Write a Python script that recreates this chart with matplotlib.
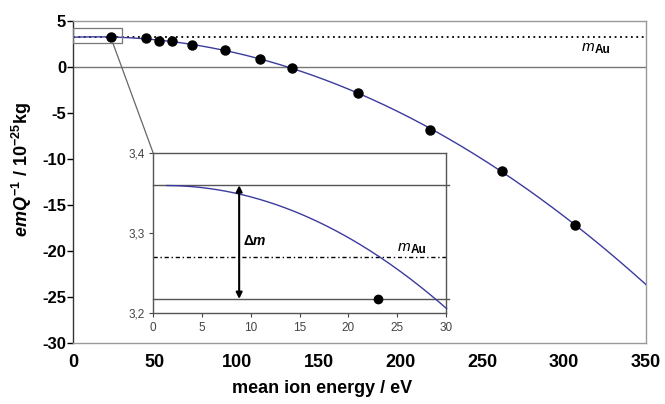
import numpy as np
import matplotlib
matplotlib.use("Agg")
import matplotlib.pyplot as plt
from matplotlib.patches import Rectangle, ConnectionPatch

plt.rcParams['font.family'] = ['Liberation Sans', 'DejaVu Sans']
plt.rcParams['mathtext.fontset'] = 'custom'
plt.rcParams['mathtext.rm'] = 'Liberation Sans:bold'
plt.rcParams['mathtext.it'] = 'Liberation Sans:italic:bold'
plt.rcParams['mathtext.bf'] = 'Liberation Sans:bold'
plt.rcParams['axes.unicode_minus'] = False

# ---- data ----
energy = [23.0, 44.6, 52.7, 60.3, 72.7, 93.0, 114.2, 133.7, 174.3, 218.1, 262.1, 306.8]
emq = [3.22, 3.15, 2.86, 2.80, 2.36, 1.88, 0.84, -0.15, -2.79, -6.82, -11.3, -17.2]

# inset curve
inset_curve_x = [1.37, 4.8, 8.9, 13.3, 18.4, 23.2, 27.0, 30.06]
inset_curve_y = [3.360, 3.357, 3.349, 3.333, 3.304, 3.270, 3.240, 3.204]

m_au = 3.27
m_upper = 3.36
m_lower = 3.218
inset_point_x = [23.0]
inset_point_y = [3.218]

x_ticks = [0, 50, 100, 150, 200, 250, 300, 350]
y_ticks = [5, 0, -5, -10, -15, -20, -25, -30]
inset_x_ticks = [0, 5, 10, 15, 20, 25, 30]
inset_y_ticks = [3.2, 3.3, 3.4]
inset_y_labels = ['3,2', '3,3', '3,4']

W, H = 665, 404
fig = plt.figure(figsize=(W / 100, H / 100), dpi=100)
ax = fig.add_axes([73 / W, (H - 343) / H, 573 / W, 322 / H])
ax.set_xlim(0, 350)
ax.set_ylim(-30, 5)

# fitted curve (quadratic fit of the data points)
coef = np.polyfit(energy, emq, 2)
xf = np.linspace(0, 350, 400)
ax.plot(xf, np.polyval(coef, xf), color='#3b3b9e', lw=1.0, zorder=3)
ax.plot(energy, emq, 'o', color='black', ms=6.5, zorder=4)

ax.axhline(0, color='#777777', lw=1.0, zorder=1)
ax.axhline(m_au, color='black', lw=1.3, ls=(0, (1, 2)), zorder=2)

for s in ['top', 'right', 'bottom']:
    ax.spines[s].set_color('#999999')
    ax.spines[s].set_linewidth(1.0)
ax.spines['left'].set_color('#333333')
ax.spines['left'].set_linewidth(1.0)

ax.set_xticks(x_ticks)
ax.set_yticks(y_ticks)
ax.tick_params(axis='x', length=0, pad=8, labelsize=13)
ax.tick_params(axis='y', length=4, width=1, direction='out', pad=1, labelsize=12)
for lab in ax.get_xticklabels() + ax.get_yticklabels():
    lab.set_fontweight('bold')

ax.set_xlabel('mean ion energy / eV', fontsize=13, fontweight='bold')
ax.xaxis.set_label_coords(0.435, -0.115)
ax.set_ylabel(r'$\it{emQ}^{-1}$ / 10$^{-25}$kg', fontsize=13, fontweight='bold')
ax.yaxis.set_label_coords(-0.068, 0.54)

# m_Au label in main plot
ax.annotate('m', xy=(311, 2.2), fontsize=11, style='italic', ha='left', va='center')
ax.annotate('Au', xy=(311, 2.2), xytext=(9, -2), textcoords='offset points',
            fontsize=8.5, fontweight='bold', ha='left', va='center')

# zoom rectangle
ax.add_patch(Rectangle((0, 2.58), 30, 4.27 - 2.58, fill=False, ec='#777777', lw=0.9, zorder=5))

# ---- inset ----
axin = fig.add_axes([153.3 / W, (H - 313.3) / H, 292.7 / W, 160 / H])
axin.set_facecolor('white')
axin.set_xlim(0, 30)
axin.set_ylim(3.2, 3.4)
cx = np.linspace(inset_curve_x[0], inset_curve_x[-1], 200)
icoef = np.polyfit(inset_curve_x, inset_curve_y, 2)
axin.plot(cx, np.polyval(icoef, cx), color='#3b3b9e', lw=1.0, zorder=3, clip_on=False)
axin.plot(inset_point_x, inset_point_y, 'o', color='black', ms=6, zorder=4)
axin.plot([0, 30.3], [m_upper, m_upper], color='#555555', lw=1.0, clip_on=False)
axin.plot([0, 30.3], [m_lower, m_lower], color='#555555', lw=1.0, clip_on=False)
axin.plot([0, 30], [m_au, m_au], color='black', lw=1.0, ls=(0, (3, 2, 1, 2)))
axin.annotate('', xy=(8.8, m_upper), xytext=(8.8, m_lower),
              arrowprops=dict(arrowstyle='<|-|>', color='black', lw=1.5,
                              mutation_scale=9, shrinkA=0, shrinkB=0))
axin.text(9.2, 3.29, r'$\Delta\it{m}$', fontsize=10, ha='left', va='center')
axin.annotate('m', xy=(25.1, 3.283), fontsize=11, style='italic', ha='left', va='center')
axin.annotate('Au', xy=(25.1, 3.283), xytext=(9, -2.5), textcoords='offset points',
              fontsize=8.5, fontweight='bold', ha='left', va='center')
for s in axin.spines.values():
    s.set_color('#555555')
    s.set_linewidth(1.0)
axin.set_xticks(inset_x_ticks)
axin.set_yticks(inset_y_ticks)
axin.set_yticklabels(inset_y_labels)
axin.tick_params(length=3, width=0.8, direction='out', colors='#444444', labelsize=8.5, pad=3)

con = ConnectionPatch(xyA=(24.4, 2.58), coordsA=ax.transData,
                      xyB=(0, 3.4), coordsB=axin.transData,
                      color='#666666', lw=0.9)
fig.add_artist(con)

fig.savefig('out.png', dpi=100)
